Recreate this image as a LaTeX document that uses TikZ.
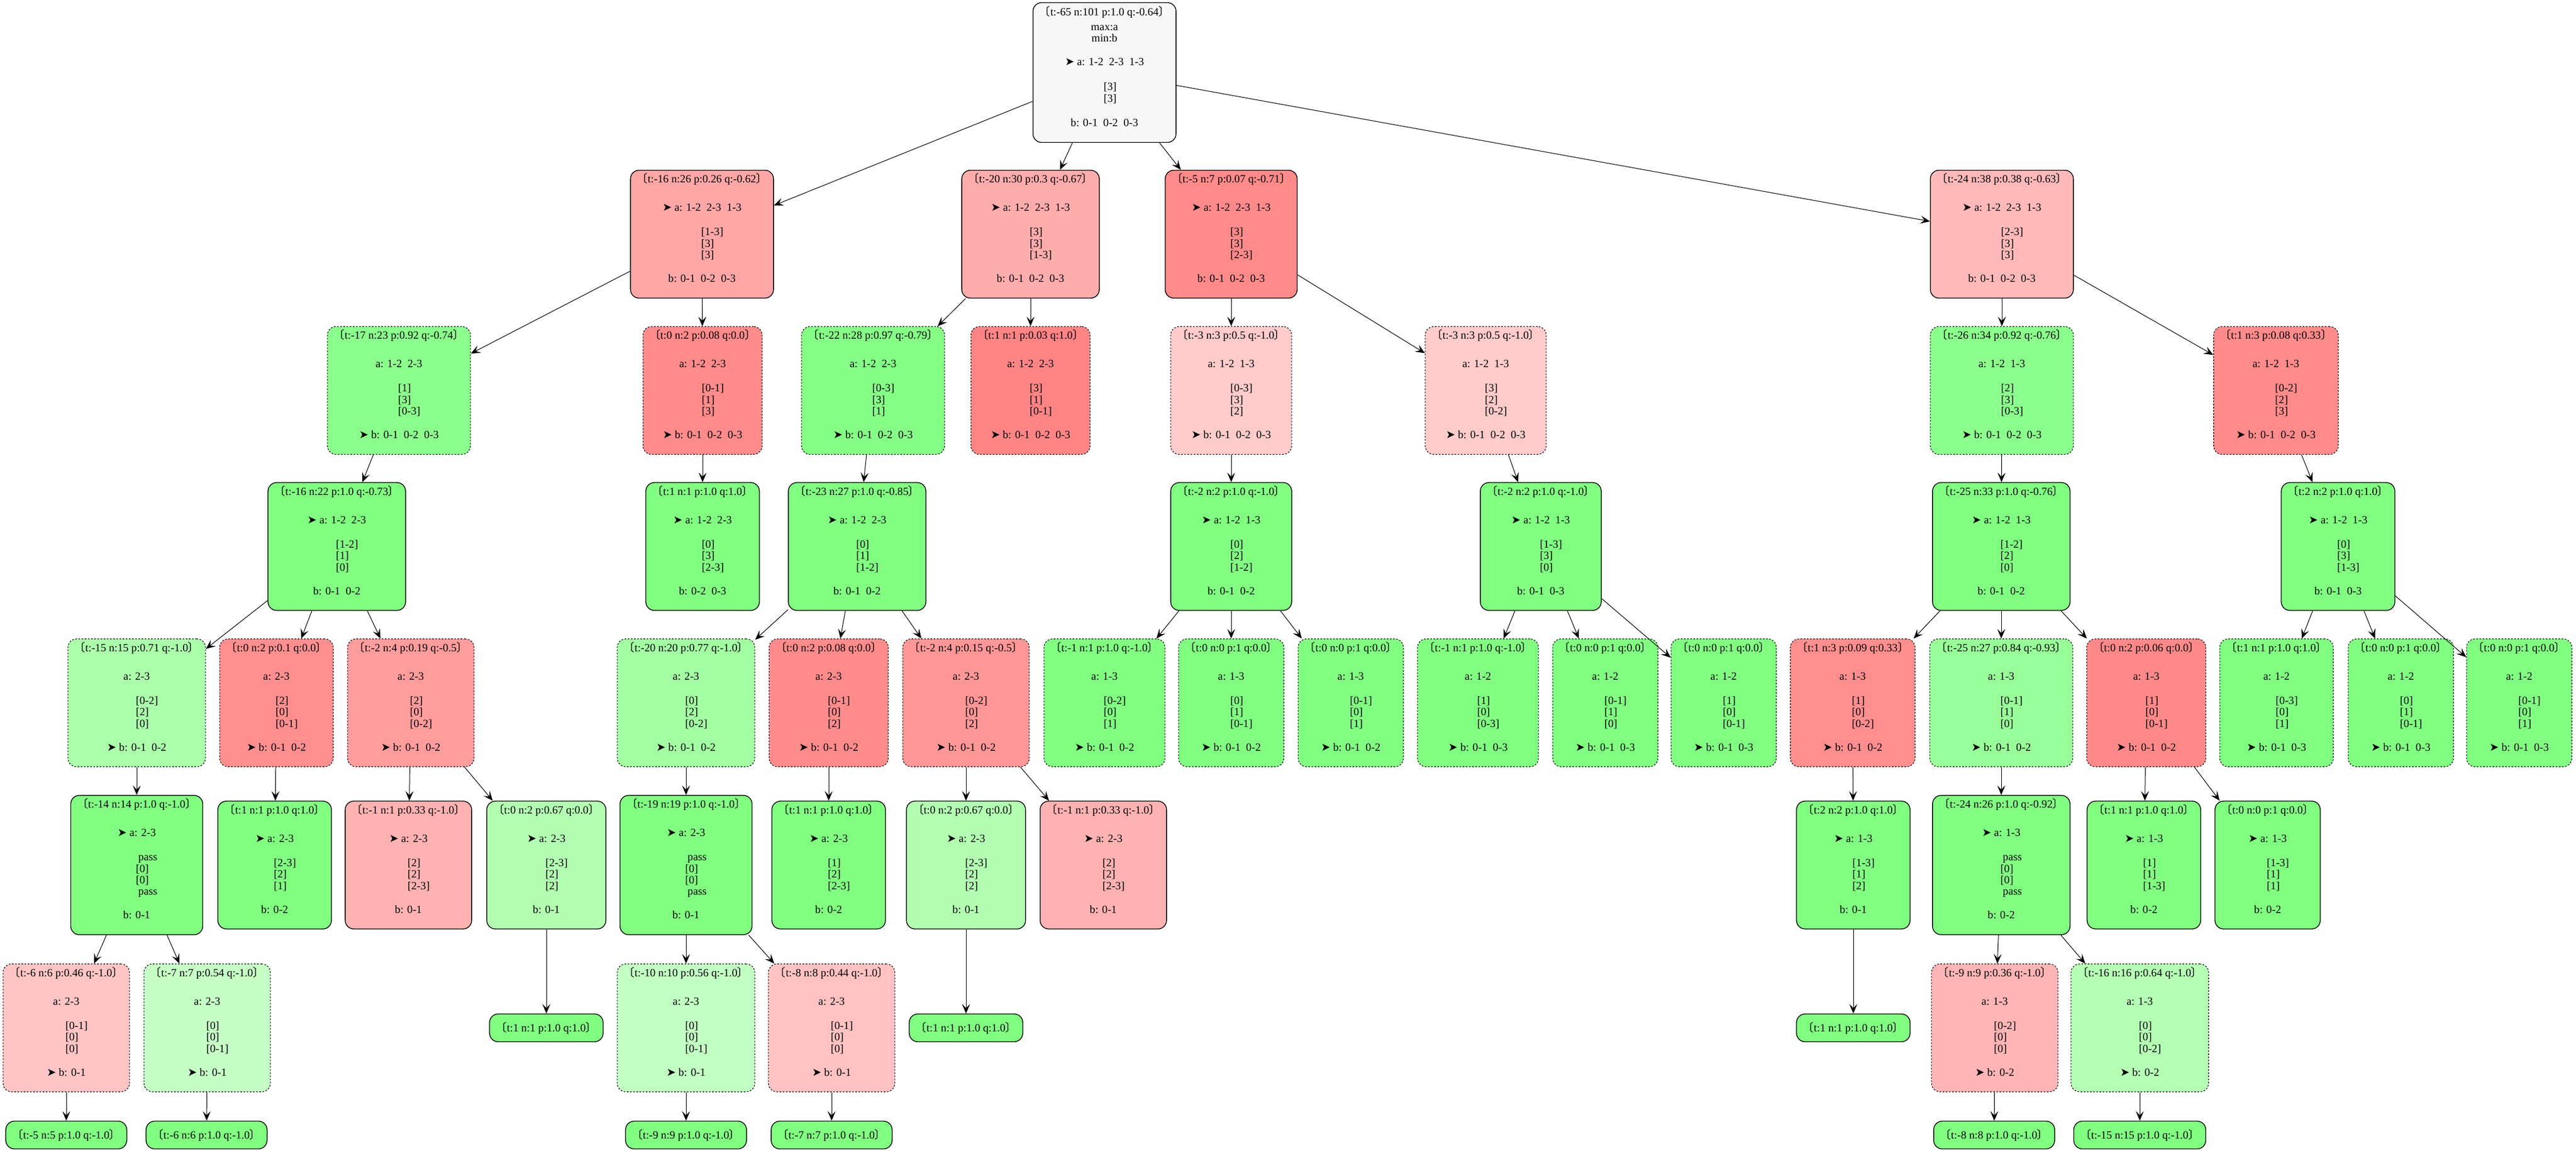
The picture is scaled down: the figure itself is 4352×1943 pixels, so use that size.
\documentclass[tikz,border=0pt]{standalone}
\usepackage{fontspec}
\setmainfont{Liberation Serif}
\newfontfamily\cjkfont{Noto Sans CJK SC}
\newfontfamily\symfont{DejaVu Sans}
\usepackage{xcolor}
\usepackage{tikz}
\usetikzlibrary{arrows.meta, positioning}

\definecolor{lossred}{RGB}{255,128,128}
\definecolor{wingreen}{RGB}{128,255,128}
\definecolor{rootgray}{RGB}{247,247,247}

\newcommand{\hd}[1]{{\cjkfont 〔}#1{\cjkfont 〕}}
\newcommand{\tomove}{{\symfont ➤}\ }
\newcommand{\sk}[1]{\makebox[0pt][l]{\hspace{-1pt}#1}}
\newcommand{\stk}[3]{\sk{[#1]}\\\sk{[#2]}\\\sk{[#3]}}
\newcommand{\pstk}{\sk{\hspace{3pt}pass}\\\sk{[0]}\\\sk{[0]}\\\sk{\hspace{3pt}pass}}
\newcommand{\mcts}[4]{\hd{#1}\rule{0pt}{15.75pt}\\[21.5pt]#2\\[16.5pt]#3\\[15.5pt]#4\rule[-20.25pt]{0pt}{20.25pt}}
\newcommand{\treefont}{\fontsize{14}{14.5}\selectfont\lineskiplimit=-30pt\relax}

\tikzset{
    state/.style={
        rectangle,
        draw=black,
        line width=1pt,
        rounded corners=11pt,
        inner xsep=8pt,
        inner ysep=0pt,
        align=center,
        font=\treefont
    },
    amove/.style={
        state
    },
    bmove/.style={
        state,
        line width=0.8pt,
        dash pattern=on 2pt off 2pt
    },
    final/.style={
        state,
        minimum height=35.25pt
    },
    lose/.style={
        fill=white!#1!lossred
    },
    win/.style={
        fill=white!#1!wingreen
    },
    link/.style={
        draw=black,
        line width=0.75pt,
        -{Stealth[length=12pt, width=10pt, inset=5pt]}
    }
}

\begin{document}
\begin{tikzpicture}[x=0.75pt, y=-0.75pt]

\useasboundingbox (0,0) rectangle (4352,1943);

% Root
\node[amove, fill=rootgray] (s) at (1866,122.5) {\hd{t:-65 n:101 p:1.0 q:-0.64}\rule{0pt}{16.5pt}\\[4.25pt]max:a\\min:b\\[15.5pt]\tomove a: 1-2~~2-3~~1-3\\[17pt]\sk{[3]}\\\sk{[3]}\\[16.6pt]b: 0-1~~0-2~~0-3\rule[-20.25pt]{0pt}{20.25pt}};

% Depth 1
\node[amove, lose=31] (s1) at (1186,395.5) {\mcts{t:-16 n:26 p:0.26 q:-0.62}{\tomove a: 1-2~~2-3~~1-3}{\stk{1-3}{3}{3}}{b: 0-1~~0-2~~0-3}};
\node[amove, lose=35] (s2) at (1741,395.5) {\mcts{t:-20 n:30 p:0.3 q:-0.67}{\tomove a: 1-2~~2-3~~1-3}{\stk{3}{3}{1-3}}{b: 0-1~~0-2~~0-3}};
\node[amove, lose=8] (s3) at (2080,395.5) {\mcts{t:-5 n:7 p:0.07 q:-0.71}{\tomove a: 1-2~~2-3~~1-3}{\stk{3}{3}{2-3}}{b: 0-1~~0-2~~0-3}};
\node[amove, lose=45] (s4) at (3382,395.5) {\mcts{t:-24 n:38 p:0.38 q:-0.63}{\tomove a: 1-2~~2-3~~1-3}{\stk{2-3}{3}{3}}{b: 0-1~~0-2~~0-3}};

% Depth 2
\node[bmove, win=9] (s11) at (674,659.5) {\mcts{t:-17 n:23 p:0.92 q:-0.74}{a: 1-2~~2-3}{\stk{1}{3}{0-3}}{\tomove b: 0-1~~0-2~~0-3}};
\node[bmove, lose=9] (s12) at (1187,659.5) {\mcts{t:0 n:2 p:0.08 q:0.0}{a: 1-2~~2-3}{\stk{0-1}{1}{3}}{\tomove b: 0-1~~0-2~~0-3}};
\node[bmove, win=4] (s21) at (1475,659.5) {\mcts{t:-22 n:28 p:0.97 q:-0.79}{a: 1-2~~2-3}{\stk{0-3}{3}{1}}{\tomove b: 0-1~~0-2~~0-3}};
\node[bmove, lose=4] (s22) at (1741,659.5) {\mcts{t:1 n:1 p:0.03 q:1.0}{a: 1-2~~2-3}{\stk{3}{1}{0-1}}{\tomove b: 0-1~~0-2~~0-3}};
\node[bmove, lose=59] (s31) at (2080,659.5) {\mcts{t:-3 n:3 p:0.5 q:-1.0}{a: 1-2~~1-3}{\stk{0-3}{3}{2}}{\tomove b: 0-1~~0-2~~0-3}};
\node[bmove, lose=59] (s32) at (2510,659.5) {\mcts{t:-3 n:3 p:0.5 q:-1.0}{a: 1-2~~1-3}{\stk{3}{2}{0-2}}{\tomove b: 0-1~~0-2~~0-3}};
\node[bmove, win=9] (s41) at (3382,659.5) {\mcts{t:-26 n:34 p:0.92 q:-0.76}{a: 1-2~~1-3}{\stk{2}{3}{0-3}}{\tomove b: 0-1~~0-2~~0-3}};
\node[bmove, lose=9] (s42) at (3845,659.5) {\mcts{t:1 n:3 p:0.08 q:0.33}{a: 1-2~~1-3}{\stk{0-2}{2}{3}}{\tomove b: 0-1~~0-2~~0-3}};

% Depth 3
\node[amove, win=0] (s111) at (569,923) {\mcts{t:-16 n:22 p:1.0 q:-0.73}{\tomove a: 1-2~~2-3}{\stk{1-2}{1}{0}}{b: 0-1~~0-2}};
\node[amove, win=0] (s121) at (1187,923) {\mcts{t:1 n:1 p:1.0 q:1.0}{\tomove a: 1-2~~2-3}{\stk{0}{3}{2-3}}{b: 0-2~~0-3}};
\node[amove, win=0] (s211) at (1448,923) {\mcts{t:-23 n:27 p:1.0 q:-0.85}{\tomove a: 1-2~~2-3}{\stk{0}{1}{1-2}}{b: 0-1~~0-2}};
\node[amove, win=0] (s311) at (2080,923) {\mcts{t:-2 n:2 p:1.0 q:-1.0}{\tomove a: 1-2~~1-3}{\stk{0}{2}{1-2}}{b: 0-1~~0-2}};
\node[amove, win=0] (s321) at (2603,923) {\mcts{t:-2 n:2 p:1.0 q:-1.0}{\tomove a: 1-2~~1-3}{\stk{1-3}{3}{0}}{b: 0-1~~0-3}};
\node[amove, win=0] (s411) at (3381,923) {\mcts{t:-25 n:33 p:1.0 q:-0.76}{\tomove a: 1-2~~1-3}{\stk{1-2}{2}{0}}{b: 0-1~~0-2}};
\node[amove, win=0] (s421) at (3950,923) {\mcts{t:2 n:2 p:1.0 q:1.0}{\tomove a: 1-2~~1-3}{\stk{0}{3}{1-3}}{b: 0-1~~0-3}};

% Depth 4
\node[bmove, win=34] (s1111) at (231,1187) {\mcts{t:-15 n:15 p:0.71 q:-1.0}{a: 2-3}{\stk{0-2}{2}{0}}{\tomove b: 0-1~~0-2}};
\node[bmove, lose=12] (s1112) at (467,1187) {\mcts{t:0 n:2 p:0.1 q:0.0}{a: 2-3}{\stk{2}{0}{0-1}}{\tomove b: 0-1~~0-2}};
\node[bmove, lose=22] (s1113) at (694,1187) {\mcts{t:-2 n:4 p:0.19 q:-0.5}{a: 2-3}{\stk{2}{0}{0-2}}{\tomove b: 0-1~~0-2}};
\node[bmove, win=27] (s2111) at (1159,1187) {\mcts{t:-20 n:20 p:0.77 q:-1.0}{a: 2-3}{\stk{0}{2}{0-2}}{\tomove b: 0-1~~0-2}};
\node[bmove, lose=9] (s2112) at (1400,1187) {\mcts{t:0 n:2 p:0.08 q:0.0}{a: 2-3}{\stk{0-1}{0}{2}}{\tomove b: 0-1~~0-2}};
\node[bmove, lose=18] (s2113) at (1632,1187) {\mcts{t:-2 n:4 p:0.15 q:-0.5}{a: 2-3}{\stk{0-2}{0}{2}}{\tomove b: 0-1~~0-2}};
\node[bmove, win=0] (s3111) at (1866,1187) {\mcts{t:-1 n:1 p:1.0 q:-1.0}{a: 1-3}{\stk{0-2}{0}{1}}{\tomove b: 0-1~~0-2}};
\node[bmove, win=0] (s3112) at (2080,1187) {\mcts{t:0 n:0 p:1 q:0.0}{a: 1-3}{\stk{0}{1}{0-1}}{\tomove b: 0-1~~0-2}};
\node[bmove, win=0] (s3113) at (2282,1187) {\mcts{t:0 n:0 p:1 q:0.0}{a: 1-3}{\stk{0-1}{0}{1}}{\tomove b: 0-1~~0-2}};
\node[bmove, win=0] (s3211) at (2497,1187) {\mcts{t:-1 n:1 p:1.0 q:-1.0}{a: 1-2}{\stk{1}{0}{0-3}}{\tomove b: 0-1~~0-3}};
\node[bmove, win=0] (s3212) at (2712,1187) {\mcts{t:0 n:0 p:1 q:0.0}{a: 1-2}{\stk{0-1}{1}{0}}{\tomove b: 0-1~~0-3}};
\node[bmove, win=0] (s3213) at (2912,1187) {\mcts{t:0 n:0 p:1 q:0.0}{a: 1-2}{\stk{1}{0}{0-1}}{\tomove b: 0-1~~0-3}};
\node[bmove, lose=11] (s4111) at (3130,1187) {\mcts{t:1 n:3 p:0.09 q:0.33}{a: 1-3}{\stk{1}{0}{0-2}}{\tomove b: 0-1~~0-2}};
\node[bmove, win=19] (s4112) at (3381,1187) {\mcts{t:-25 n:27 p:0.84 q:-0.93}{a: 1-3}{\stk{0-1}{1}{0}}{\tomove b: 0-1~~0-2}};
\node[bmove, lose=7] (s4113) at (3626,1187) {\mcts{t:0 n:2 p:0.06 q:0.0}{a: 1-3}{\stk{1}{0}{0-1}}{\tomove b: 0-1~~0-2}};
\node[bmove, win=0] (s4211) at (3846,1187) {\mcts{t:1 n:1 p:1.0 q:1.0}{a: 1-2}{\stk{0-3}{0}{1}}{\tomove b: 0-1~~0-3}};
\node[bmove, win=0] (s4212) at (4056,1187) {\mcts{t:0 n:0 p:1 q:0.0}{a: 1-2}{\stk{0}{1}{0-1}}{\tomove b: 0-1~~0-3}};
\node[bmove, win=0] (s4213) at (4256,1187) {\mcts{t:0 n:0 p:1 q:0.0}{a: 1-2}{\stk{0-1}{0}{1}}{\tomove b: 0-1~~0-3}};

% Depth 5
\node[amove, win=0] (s11111) at (231,1461) {\mcts{t:-14 n:14 p:1.0 q:-1.0}{\tomove a: 2-3}{\pstk}{b: 0-1}};
\node[amove, win=0] (s11121) at (464,1461) {\mcts{t:1 n:1 p:1.0 q:1.0}{\tomove a: 2-3}{\stk{2-3}{2}{1}}{b: 0-2}};
\node[amove, lose=39] (s11131) at (690,1461) {\mcts{t:-1 n:1 p:0.33 q:-1.0}{\tomove a: 2-3}{\stk{2}{2}{2-3}}{b: 0-1}};
\node[amove, win=39] (s11132) at (923,1461) {\mcts{t:0 n:2 p:0.67 q:0.0}{\tomove a: 2-3}{\stk{2-3}{2}{2}}{b: 0-1}};
\node[amove, win=0] (s21111) at (1159,1461) {\mcts{t:-19 n:19 p:1.0 q:-1.0}{\tomove a: 2-3}{\pstk}{b: 0-1}};
\node[amove, win=0] (s21121) at (1400,1461) {\mcts{t:1 n:1 p:1.0 q:1.0}{\tomove a: 2-3}{\stk{1}{2}{2-3}}{b: 0-2}};
\node[amove, win=39] (s21131) at (1632,1461) {\mcts{t:0 n:2 p:0.67 q:0.0}{\tomove a: 2-3}{\stk{2-3}{2}{2}}{b: 0-1}};
\node[amove, lose=39] (s21132) at (1864,1461) {\mcts{t:-1 n:1 p:0.33 q:-1.0}{\tomove a: 2-3}{\stk{2}{2}{2-3}}{b: 0-1}};
\node[amove, win=0] (s41111) at (3131,1461) {\mcts{t:2 n:2 p:1.0 q:1.0}{\tomove a: 1-3}{\stk{1-3}{1}{2}}{b: 0-1}};
\node[amove, win=0] (s41121) at (3381,1461) {\mcts{t:-24 n:26 p:1.0 q:-0.92}{\tomove a: 1-3}{\pstk}{b: 0-2}};
\node[amove, win=0] (s41131) at (3622,1461) {\mcts{t:1 n:1 p:1.0 q:1.0}{\tomove a: 1-3}{\stk{1}{1}{1-3}}{b: 0-2}};
\node[amove, win=0] (s41132) at (3831,1461) {\mcts{t:0 n:0 p:1 q:0.0}{\tomove a: 1-3}{\stk{1-3}{1}{1}}{b: 0-2}};

% Depth 6
\node[bmove, lose=54] (s111111) at (112,1736) {\mcts{t:-6 n:6 p:0.46 q:-1.0}{a: 2-3}{\stk{0-1}{0}{0}}{\tomove b: 0-1}};
\node[bmove, win=54] (s111112) at (350,1736) {\mcts{t:-7 n:7 p:0.54 q:-1.0}{a: 2-3}{\stk{0}{0}{0-1}}{\tomove b: 0-1}};
\node[final, win=0] (s111321) at (923,1736) {\hd{t:1 n:1 p:1.0 q:1.0}};
\node[bmove, win=52] (s211111) at (1159,1736) {\mcts{t:-10 n:10 p:0.56 q:-1.0}{a: 2-3}{\stk{0}{0}{0-1}}{\tomove b: 0-1}};
\node[bmove, lose=52] (s211112) at (1405,1736) {\mcts{t:-8 n:8 p:0.44 q:-1.0}{a: 2-3}{\stk{0-1}{0}{0}}{\tomove b: 0-1}};
\node[final, win=0] (s211311) at (1632,1736) {\hd{t:1 n:1 p:1.0 q:1.0}};
\node[final, win=0] (s411111) at (3131,1736) {\hd{t:1 n:1 p:1.0 q:1.0}};
\node[bmove, lose=42] (s411211) at (3370,1736) {\mcts{t:-9 n:9 p:0.36 q:-1.0}{a: 1-3}{\stk{0-2}{0}{0}}{\tomove b: 0-2}};
\node[bmove, win=42] (s411212) at (3615,1736) {\mcts{t:-16 n:16 p:0.64 q:-1.0}{a: 1-3}{\stk{0}{0}{0-2}}{\tomove b: 0-2}};

% Depth 7
\node[final, win=0] (s1111111) at (112,1917) {\hd{t:-5 n:5 p:1.0 q:-1.0}};
\node[final, win=0] (s1111121) at (349,1917) {\hd{t:-6 n:6 p:1.0 q:-1.0}};
\node[final, win=0] (s2111111) at (1159,1917) {\hd{t:-9 n:9 p:1.0 q:-1.0}};
\node[final, win=0] (s2111121) at (1405,1917) {\hd{t:-7 n:7 p:1.0 q:-1.0}};
\node[final, win=0] (s4112111) at (3369,1917) {\hd{t:-8 n:8 p:1.0 q:-1.0}};
\node[final, win=0] (s4112121) at (3615,1917) {\hd{t:-15 n:15 p:1.0 q:-1.0}};

% Edges
\draw[link] (s) -- (s1);
\draw[link] (s) -- (s2);
\draw[link] (s) -- (s3);
\draw[link] (s) -- (s4);
\draw[link] (s1) -- (s11);
\draw[link] (s1) -- (s12);
\draw[link] (s2) -- (s21);
\draw[link] (s2) -- (s22);
\draw[link] (s3) -- (s31);
\draw[link] (s3) -- (s32);
\draw[link] (s4) -- (s41);
\draw[link] (s4) -- (s42);
\draw[link] (s11) -- (s111);
\draw[link] (s12) -- (s121);
\draw[link] (s21) -- (s211);
\draw[link] (s31) -- (s311);
\draw[link] (s32) -- (s321);
\draw[link] (s41) -- (s411);
\draw[link] (s42) -- (s421);
\draw[link] (s111) -- (s1111);
\draw[link] (s111) -- (s1112);
\draw[link] (s111) -- (s1113);
\draw[link] (s211) -- (s2111);
\draw[link] (s211) -- (s2112);
\draw[link] (s211) -- (s2113);
\draw[link] (s311) -- (s3111);
\draw[link] (s311) -- (s3112);
\draw[link] (s311) -- (s3113);
\draw[link] (s321) -- (s3211);
\draw[link] (s321) -- (s3212);
\draw[link] (s321) -- (s3213);
\draw[link] (s411) -- (s4111);
\draw[link] (s411) -- (s4112);
\draw[link] (s411) -- (s4113);
\draw[link] (s421) -- (s4211);
\draw[link] (s421) -- (s4212);
\draw[link] (s421) -- (s4213);
\draw[link] (s1111) -- (s11111);
\draw[link] (s1112) -- (s11121);
\draw[link] (s1113) -- (s11131);
\draw[link] (s1113) -- (s11132);
\draw[link] (s2111) -- (s21111);
\draw[link] (s2112) -- (s21121);
\draw[link] (s2113) -- (s21131);
\draw[link] (s2113) -- (s21132);
\draw[link] (s4111) -- (s41111);
\draw[link] (s4112) -- (s41121);
\draw[link] (s4113) -- (s41131);
\draw[link] (s4113) -- (s41132);
\draw[link] (s11111) -- (s111111);
\draw[link] (s11111) -- (s111112);
\draw[link] (s11132) -- (s111321);
\draw[link] (s21111) -- (s211111);
\draw[link] (s21111) -- (s211112);
\draw[link] (s21131) -- (s211311);
\draw[link] (s41111) -- (s411111);
\draw[link] (s41121) -- (s411211);
\draw[link] (s41121) -- (s411212);
\draw[link] (s111111) -- (s1111111);
\draw[link] (s111112) -- (s1111121);
\draw[link] (s211111) -- (s2111111);
\draw[link] (s211112) -- (s2111121);
\draw[link] (s411211) -- (s4112111);
\draw[link] (s411212) -- (s4112121);

\end{tikzpicture}
\end{document}
